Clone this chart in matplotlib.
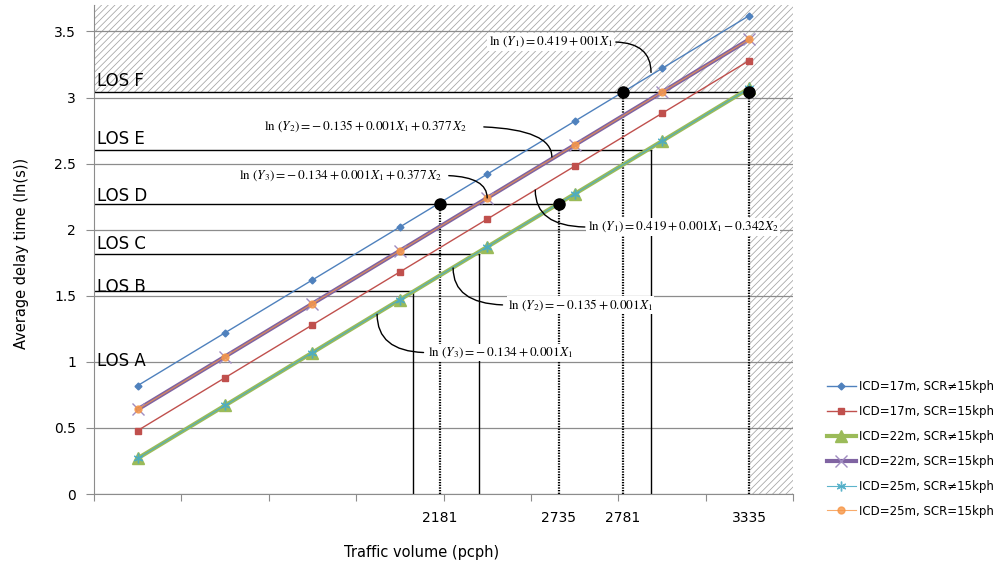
import matplotlib.pyplot as plt
import numpy as np

plt.rcParams['font.family'] = ['DejaVu Sans']
plt.rcParams['mathtext.fontset'] = 'stix'
plt.rcParams['hatch.color'] = '#a3a3a3'
plt.rcParams['hatch.linewidth'] = 0.55

# Data (8 traffic volume steps, ln of delay)
points = [1, 2, 3, 4, 5, 6, 7, 8]
icd17_ne15 = [0.82, 1.22, 1.62, 2.02, 2.42, 2.82, 3.22, 3.62]
icd17_eq15 = [0.48, 0.88, 1.28, 1.68, 2.08, 2.48, 2.88, 3.28]
icd22_ne15 = [0.27, 0.67, 1.07, 1.47, 1.87, 2.27, 2.67, 3.07]
icd22_eq15 = [0.64, 1.04, 1.44, 1.84, 2.24, 2.64, 3.04, 3.44]
icd25_ne15 = [0.27, 0.67, 1.07, 1.47, 1.87, 2.27, 2.67, 3.07]
icd25_eq15 = [0.64, 1.04, 1.44, 1.84, 2.24, 2.64, 3.04, 3.44]

# LOS boundaries (B..F) and where each boundary line stops
los_level = [1.535, 1.815, 2.195, 2.605, 3.045]
los_end = [4.15, 4.91, 5.82, 6.87, 8.0]
los_names = ['LOS A', 'LOS B', 'LOS C', 'LOS D', 'LOS E', 'LOS F']
los_text_y = [0.97, 1.53, 1.856, 2.22, 2.65, 3.09]

# capacity volumes (dotted lines + black dots)
cut_labels = ['2181', '2735', '2781', '3335']
cut_pos = [4.46, 5.82, 6.55, 8.0]
cut_level = [2.195, 2.195, 3.045, 3.045]

fig = plt.figure(figsize=(9.93, 5.69), dpi=100)
ax = fig.add_axes([94 / 993, 75 / 569, 699 / 993, 489 / 569])
ax.set_xlim(0.5, 8.5)
ax.set_ylim(0, 3.7)

# hatched LOS F / over-capacity region
hx = [0.5, 8.5, 8.5, cut_pos[-1], cut_pos[-1], 0.5]
hy = [3.7, 3.7, 0, 0, los_level[-1], los_level[-1]]
ax.fill(hx, hy, facecolor='white', hatch='/////', linewidth=0, zorder=0.2)

ax.set_yticks(np.arange(0, 3.51, 0.5))
ax.set_yticklabels(['0', '0.5', '1', '1.5', '2', '2.5', '3', '3.5'])
ax.grid(axis='y', color='#8c8c8c', linewidth=0.9, zorder=0.4)
ax.set_axisbelow(True)

ax.set_xticks(np.arange(0.5, 8.6, 1))
ax.set_xticklabels([])
ax.set_xticks(cut_pos, minor=True)
ax.set_xticklabels(cut_labels, minor=True)
ax.tick_params(axis='x', which='major', length=5, color='#8c8c8c')
ax.tick_params(axis='x', which='minor', length=0, pad=12, labelsize=10)
ax.tick_params(axis='y', length=6, color='#8c8c8c', pad=7, labelsize=10)
for s in ['top', 'right']:
    ax.spines[s].set_visible(False)
for s in ['left', 'bottom']:
    ax.spines[s].set_color('#8c8c8c')

# LOS lines and labels
for lv, end in zip(los_level, los_end):
    ax.plot([0.5, end], [lv, lv], color='black', lw=1, zorder=2)
for name, ty in zip(los_names, los_text_y):
    ax.text(0.53, ty, name, fontsize=12, va='baseline', ha='left', zorder=3)

# solid drops where the 22m line meets LOS B, C, E
for i in [0, 1, 3]:
    ax.plot([los_end[i], los_end[i]], [0, los_level[i]], color='black', lw=1, zorder=2)

# dotted capacity lines
for p, lv in zip(cut_pos, cut_level):
    ax.plot([p, p], [0, lv], color='black', lw=1.6, ls=(0, (0.6, 0.6)), zorder=2)

# series
ax.plot(points, icd17_ne15, color='#4F81BD', lw=1, marker='D', ms=3.5, zorder=4,
        label='ICD=17m, SCR≠15kph')
ax.plot(points, icd17_eq15, color='#C0504D', lw=1, marker='s', ms=4.5, zorder=4,
        label='ICD=17m, SCR=15kph')
ax.plot(points, icd22_ne15, color='#9BBB59', lw=3, marker='^', ms=9, zorder=4,
        label='ICD=22m, SCR≠15kph')
ax.plot(points, icd22_eq15, color='#8064A2', lw=3, marker='x', ms=8, mew=1,
        mec='#A08CC0', zorder=4, label='ICD=22m, SCR=15kph')
ax.plot(points, icd25_ne15, color='#4BACC6', lw=0.8, marker=(6, 2, 0), ms=7, mew=1,
        zorder=4, alpha=0.9, label='ICD=25m, SCR≠15kph')
ax.plot(points, icd25_eq15, color='#F79646', lw=0.8, marker='o', ms=5, zorder=4,
        alpha=0.8, label='ICD=25m, SCR=15kph')

ax.plot(cut_pos, cut_level, 'o', color='black', ms=8, zorder=6)

# regression equations with curved leaders: text, text anchor, leader target, side, gap
eqs = [
    (r'$\ln\,(Y_1) = 0.419 + 001X_1$', (6.44, 3.42), (6.875, 3.19), 'right', 1),
    (r'$\ln\,(Y_2) = -\,0.135 + 0.001X_1 + 0.377\,X_2$', (4.77, 2.78), (5.74, 2.55), 'right', 11),
    (r'$\ln\,(Y_3) = -\,0.134 + 0.001X_1 + 0.377\,X_2$', (4.48, 2.41), (5.0, 2.24), 'right', 4),
    (r'$\ln\,(Y_1) = 0.419 + 0.001X_1 - 0.342X_2$', (6.15, 2.02), (5.55, 2.30), 'left', 1),
    (r'$\ln\,(Y_2) = -\,0.135 + 0.001X_1$', (5.24, 1.43), (4.61, 1.71), 'left', 3),
    (r'$\ln\,(Y_3) = -\,0.134 + 0.001X_1$', (4.32, 1.07), (3.74, 1.36), 'left', 2),
]
for txt, tpos, target, ha, gap in eqs:
    rel = (1, 0.5) if ha == 'right' else (0, 0.5)
    ax.annotate(txt, xy=target, xytext=tpos, ha=ha, va='center', fontsize=9.5,
                bbox=dict(fc='white', ec='none', pad=1), zorder=7,
                arrowprops=dict(arrowstyle='-', color='black', lw=1, relpos=rel,
                                connectionstyle='angle3,angleA=0,angleB=90',
                                shrinkA=gap, shrinkB=0))

fig.text(422 / 993, 1 - 553 / 569, 'Traffic volume (pcph)', fontsize=10.5,
         ha='center', va='center')
fig.text(22 / 993, 1 - 253 / 569, 'Average delay time (ln(s))', fontsize=10.5,
         ha='center', va='center', rotation=90)

handles, labels = ax.get_legend_handles_labels()
fig.legend(handles, labels, loc='center left', bbox_to_anchor=(822 / 993, 1 - 449 / 569),
           frameon=False, fontsize=8.5, handlelength=2.5, handletextpad=0.2,
           labelspacing=1.0, borderaxespad=0)

fig.savefig('out.png', dpi=100)
